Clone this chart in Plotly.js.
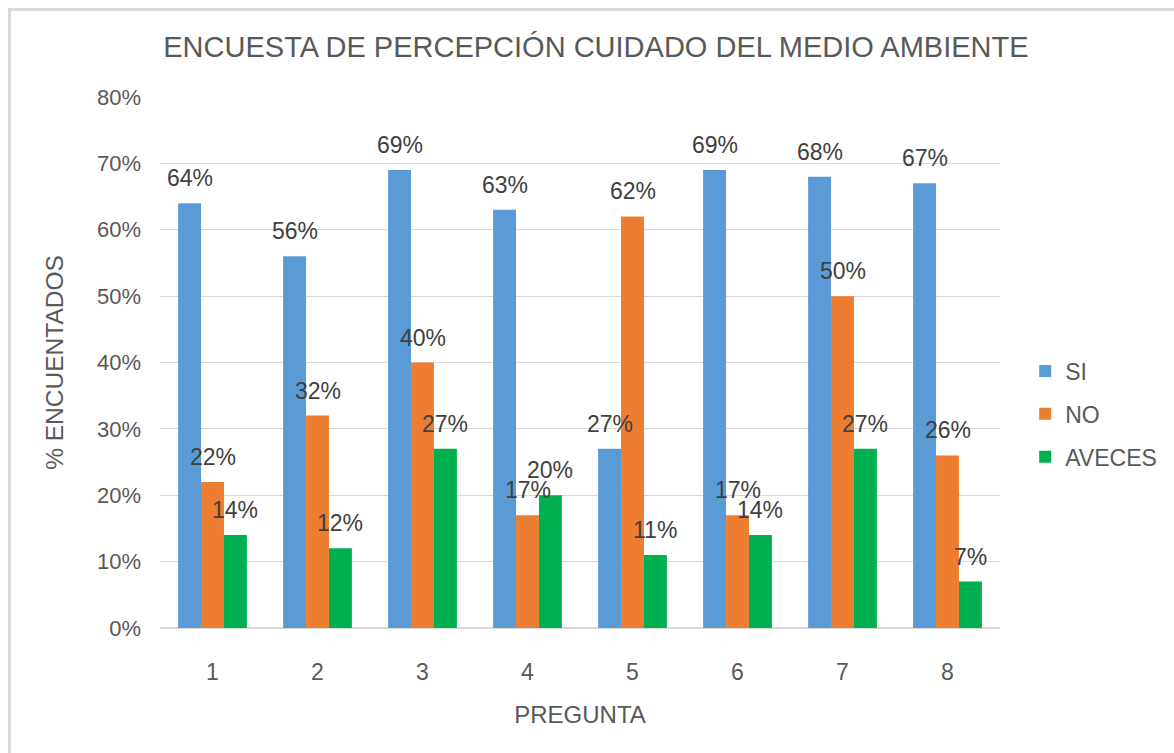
<!DOCTYPE html>
<html>
<head>
<meta charset="utf-8">
<script src="https://cdn.plot.ly/plotly-3.0.1.min.js"></script>
<style>
  html, body { margin: 0; padding: 0; background: #ffffff; }
  #frame { position: absolute; left: 8px; top: 8px; width: 1300px; height: 900px;
           border-top: 3px solid #d9d9d9; border-left: 3px solid #d9d9d9; }
  #chart { position: absolute; left: 0; top: 0; width: 1174px; height: 753px; }
</style>
</head>
<body>
<div id="frame"></div>
<div id="chart"></div>
<script>
const preguntas = [1, 2, 3, 4, 5, 6, 7, 8];
const tickLabels = ['1', '2', '3', '4', '5', '6', '7', '8'];
const si = [0.64, 0.56, 0.69, 0.63, 0.27, 0.69, 0.68, 0.67];
const no = [0.22, 0.32, 0.40, 0.17, 0.62, 0.17, 0.50, 0.26];
const aveces = [0.14, 0.12, 0.27, 0.20, 0.11, 0.14, 0.27, 0.07];
const seriesNames = ['SI', 'NO', 'AVECES'];
const seriesColors = ['#5B9BD5', '#ED7D31', '#00B050'];

const FONT = 'Liberation Sans, Arial, sans-serif';
const TXT = '#595959';
const BARGAP = 0.345;

const allSeries = [si, no, aveces];
const traces = allSeries.map((vals, k) => ({
  type: 'bar',
  name: seriesNames[k],
  legendgroup: seriesNames[k],
  x: preguntas,
  y: vals,
  marker: { color: seriesColors[k] },
  hoverinfo: 'skip'
}));

const nS = allSeries.length;
const w = (1 - BARGAP) / nS;
const annotations = [];
allSeries.forEach((vals, k) => {
  vals.forEach((v, i) => {
    annotations.push({
      x: preguntas[i] + (k - (nS - 1) / 2) * w,
      y: v,
      xref: 'x', yref: 'y',
      text: Math.round(v * 100) + '%',
      showarrow: false,
      xanchor: 'center', yanchor: 'bottom',
      yshift: 10,
      font: { family: FONT, size: 23, color: '#404040' }
    });
  });
});

const layout = {
  width: 1174, height: 753,
  paper_bgcolor: 'rgba(0,0,0,0)',
  plot_bgcolor: 'rgba(0,0,0,0)',
  margin: { l: 160, r: 172, t: 97, b: 125 },
  font: { family: FONT, color: TXT },
  title: {
    text: 'ENCUESTA DE PERCEPCIÓN CUIDADO DEL MEDIO AMBIENTE',
    font: { family: FONT, size: 29, color: TXT },
    x: 0.519, xref: 'paper', xanchor: 'center',
    y: 0.938, yref: 'container', yanchor: 'middle'
  },
  barmode: 'group',
  bargap: BARGAP,
  bargroupgap: 0,
  xaxis: {
    range: [0.5, 8.5],
    tickvals: preguntas,
    ticktext: tickLabels,
    showgrid: false,
    zeroline: false,
    showline: false,
    ticks: '',
    ticklabelstandoff: 28,
    tickfont: { family: FONT, size: 23, color: TXT },
    title: { text: 'PREGUNTA', font: { family: FONT, size: 24, color: TXT }, standoff: 22 }
  },
  yaxis: {
    range: [0, 0.8],
    dtick: 0.1,
    tickformat: '.0%',
    showgrid: true,
    gridcolor: '#d9d9d9',
    gridwidth: 1,
    zeroline: true,
    zerolinecolor: '#d9d9d9',
    zerolinewidth: 2,
    showline: false,
    ticks: '',
    ticklabelstandoff: 18,
    tickfont: { family: FONT, size: 22, color: TXT },
    title: { text: '% ENCUENTADOS', font: { family: FONT, size: 24.5, color: TXT }, standoff: 26 }
  },
  legend: {
    x: 1.03, xanchor: 'left', xref: 'paper',
    y: 0.403, yanchor: 'middle', yref: 'paper',
    font: { family: FONT, size: 23, color: TXT },
    tracegroupgap: 10,
    itemwidth: 30,
    bgcolor: 'rgba(0,0,0,0)'
  },
  annotations: annotations,
  showlegend: true
};

Plotly.newPlot('chart', traces, layout, { displayModeBar: false, staticPlot: true });
</script>
</body>
</html>
